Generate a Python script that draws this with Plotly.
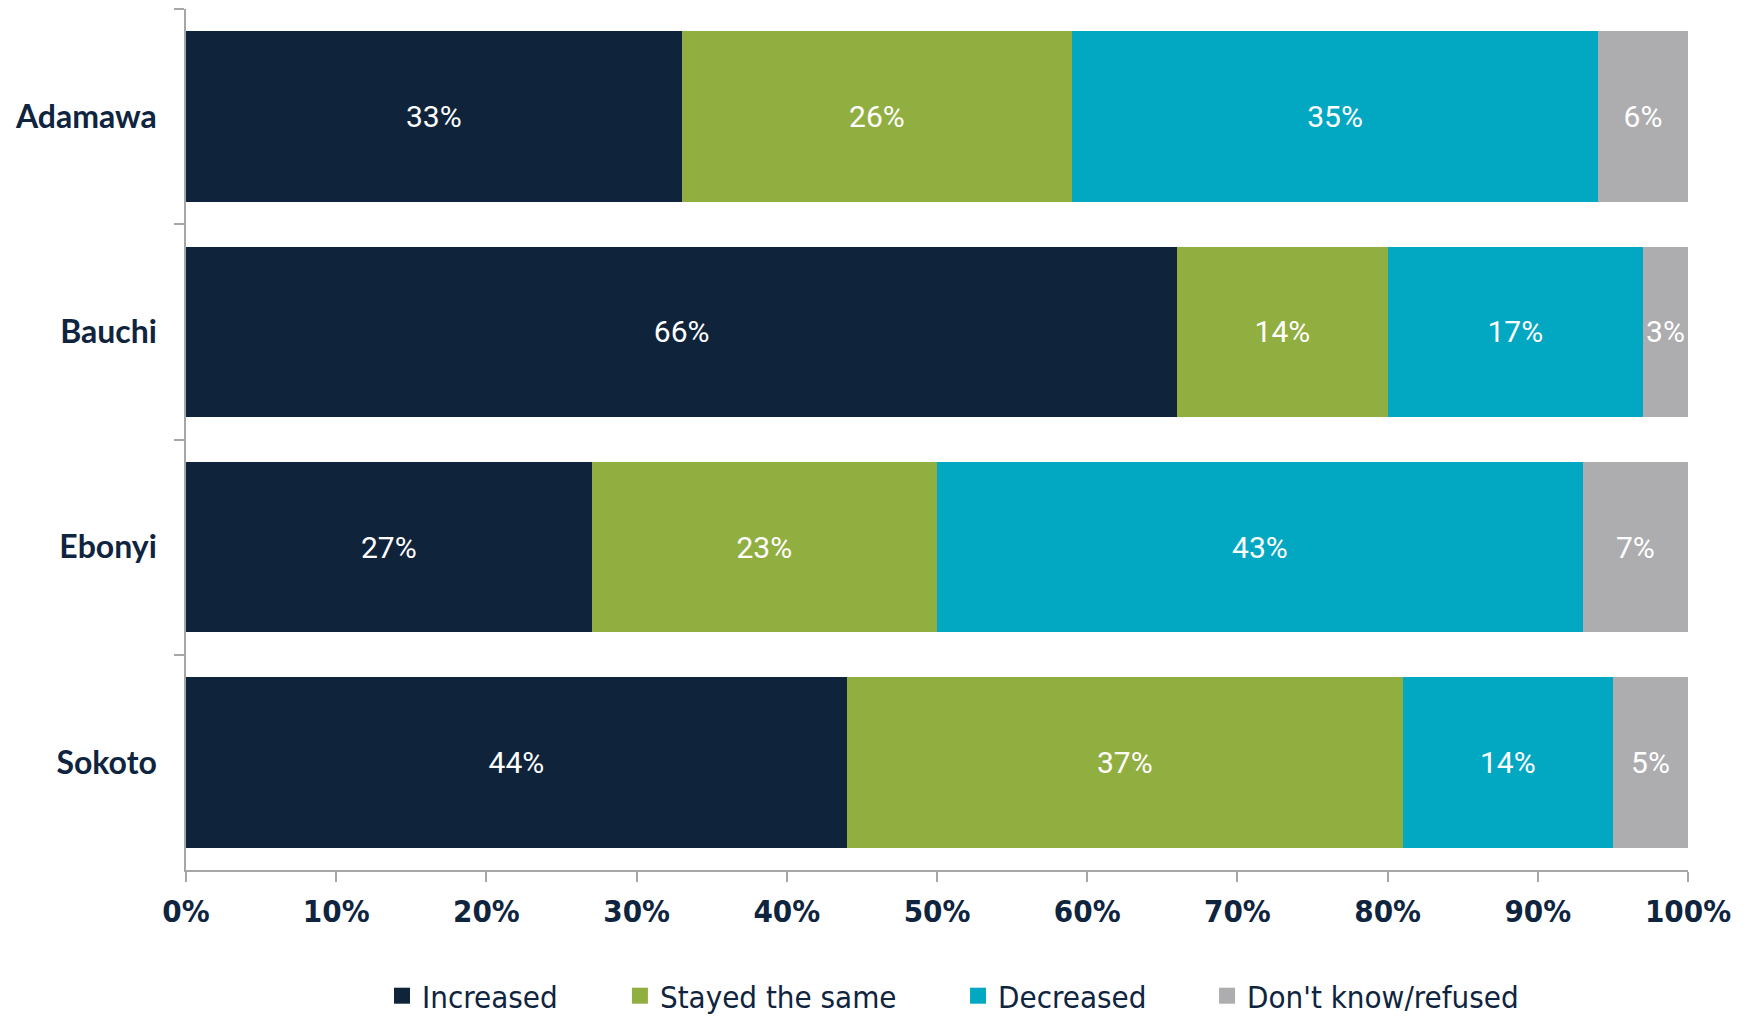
import plotly.graph_objects as go

states = ["Adamawa", "Bauchi", "Ebonyi", "Sokoto"]
series_names = ["Increased", "Stayed the same", "Decreased", "Don't know/refused"]
increased = [33, 66, 27, 44]
stayed_same = [26, 14, 23, 37]
decreased = [35, 17, 43, 14]
dont_know = [6, 3, 7, 5]
x_tick_vals = [0, 10, 20, 30, 40, 50, 60, 70, 80, 90, 100]
x_tick_text = ["0%", "10%", "20%", "30%", "40%", "50%", "60%", "70%", "80%", "90%", "100%"]

colors = ["#0F243B", "#91AE40", "#02A8C2", "#ADADAF"]
navy = "#0F243E"
narrow = "DejaVu Sans Condensed, DejaVu Sans, sans-serif"

# legend anchor positions (paper fraction)
legend_x = [0.1305, 0.2889, 0.5140, 0.6798]
legend_ids = ["legend", "legend2", "legend3", "legend4"]

fig = go.Figure()
for name, vals, col, lid in zip(series_names, [increased, stayed_same, decreased, dont_know], colors, legend_ids):
    fig.add_trace(go.Bar(
        y=states, x=vals, name=name, orientation="h",
        marker=dict(color=col, line=dict(width=0)),
        texttemplate="%{x}%", textposition="inside", insidetextanchor="middle",
        textangle=0, constraintext="none",
        textfont=dict(family="Roboto", size=30, color="white"),
        showlegend=False, hoverinfo="skip",
    ))
    fig.add_trace(go.Scatter(
        x=[None], y=[None], mode="markers", name=name,
        marker=dict(symbol="square", size=17, color=col),
        showlegend=True, legend=lid,
    ))

legend_common = dict(orientation="h", xanchor="left", y=-0.1464, yanchor="middle",
                     font=dict(family=narrow, size=31, color=navy),
                     itemsizing="trace", itemwidth=30, bgcolor="rgba(0,0,0,0)")
layout_legends = {}
for lid, lx in zip(legend_ids, legend_x):
    layout_legends[lid] = dict(legend_common, x=lx)

fig.update_layout(
    width=1747, height=1017,
    barmode="stack", bargap=0.208,
    plot_bgcolor="white", paper_bgcolor="white",
    margin=dict(l=186, r=59, t=9, b=147, autoexpand=False),
    **layout_legends,
)
fig.update_xaxes(
    range=[0, 100], tickvals=x_tick_vals, ticktext=x_tick_text, automargin=False,
    showgrid=False, zeroline=False, showline=True, linecolor="#A6A6A6", linewidth=1.5,
    ticks="outside", ticklen=10, tickcolor="#A6A6A6", tickwidth=1.5,
    tickfont=dict(family=narrow, size=31, color=navy, weight="bold"),
    ticklabelstandoff=3,
)
fig.update_yaxes(
    autorange="reversed", showgrid=False, zeroline=False, automargin=False,
    showline=True, linecolor="#A6A6A6", linewidth=1.5,
    ticks="outside", ticklen=10, tickcolor="#A6A6A6", tickwidth=1.5, tickson="boundaries",
    tickfont=dict(family="Lato", size=32, color=navy, weight="bold"),
    ticklabelstandoff=21,
)

fig.write_html("out.html", config={"displayModeBar": False},
               post_script="document.body.style.margin='0';document.body.style.overflow='hidden';")
